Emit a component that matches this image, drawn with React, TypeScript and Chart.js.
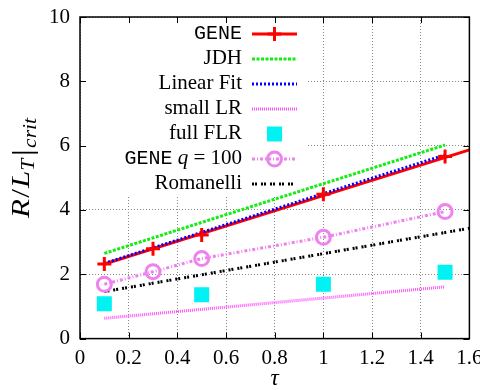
import { useEffect, useRef } from 'react';
import { Chart, registerables } from 'chart.js';

Chart.register(...registerables);

// ---- data ----
const seriesNames = ['GENE', 'JDH', 'Linear Fit', 'small LR', 'full FLR', 'GENE q = 100', 'Romanelli'];
const tauGene = [0.1, 0.3, 0.5, 1.0, 1.5];
const geneValues = [2.32, 2.79, 3.22, 4.49, 5.66];
const geneLineTau = [0.1, 1.6];
const geneLineValues = [2.32, 5.87];
const jdhTau = [0.1, 1.5];
const jdhValues = [2.65, 6.02];
const linFitTau = [0.1, 1.5];
const linFitValues = [2.34, 5.71];
const smallLRTau = [0.1, 1.5];
const smallLRValues = [0.63, 1.61];
const fullFLRTau = [0.1, 0.5, 1.0, 1.5];
const fullFLRValues = [1.08, 1.36, 1.69, 2.06];
const geneQ100Tau = [0.1, 0.3, 0.5, 1.0, 1.5];
const geneQ100Values = [1.69, 2.08, 2.49, 3.15, 3.95];
const romanelliTau = [0.1, 1.6];
const romanelliValues = [1.46, 3.43];
const xTicks = [0, 0.2, 0.4, 0.6, 0.8, 1, 1.2, 1.4, 1.6];
const yTicks = [0, 2, 4, 6, 8, 10];

const pts = (xs: number[], ys: number[]) => xs.map((x, i) => ({ x, y: ys[i] }));

const RED = '#ff0000';
const GREEN = '#11ee11';
const BLUE = '#0000ff';
const MAGENTA = '#ff55ff';
const CYAN = '#00f2f2';
const VIOLET = '#ee82ee';
const BLACK = '#000000';

const SERIF = '"Liberation Serif", "DejaVu Serif", serif';
const MONO = '"Liberation Mono", "DejaVu Sans Mono", monospace';

const decor = {
  id: 'decor',
  beforeDatasetsDraw(chart: any) {
    const { ctx, chartArea } = chart;
    ctx.save();
    ctx.fillStyle = '#ffffff';
    ctx.fillRect(chartArea.left + 1, chartArea.top + 1, 306 - chartArea.left - 1, 196 - chartArea.top - 1);
    ctx.restore();
  },
  afterDraw(chart: any) {
    const { ctx, chartArea } = chart;
    const xs = chart.scales.x;
    const ys = chart.scales.y;
    const { left, right, top, bottom } = chartArea;
    ctx.save();
    // inward ticks
    ctx.strokeStyle = '#000';
    ctx.lineWidth = 1;
    ctx.beginPath();
    for (const v of xTicks) {
      const px = Math.round(xs.getPixelForValue(v)) + 0.5;
      ctx.moveTo(px, bottom); ctx.lineTo(px, bottom - 6);
      ctx.moveTo(px, top); ctx.lineTo(px, top + 6);
    }
    for (const v of yTicks) {
      const py = Math.round(ys.getPixelForValue(v)) + 0.5;
      ctx.moveTo(left, py); ctx.lineTo(left + 6, py);
      ctx.moveTo(right, py); ctx.lineTo(right - 6, py);
    }
    ctx.stroke();
    // frame
    ctx.lineWidth = 1.5;
    ctx.strokeRect(left, top, right - left, bottom - top);

    // legend
    const textRight = 242;
    const s0 = 252, s1 = 297, sm = (s0 + s1) / 2;
    const row = (i: number) => 34 + 25 * i;
    const drawText = (i: number, parts: { t: string; f: string }[]) => {
      let w = 0;
      for (const p of parts) { ctx.font = p.f; w += ctx.measureText(p.t).width; }
      let x = textRight - w;
      ctx.fillStyle = '#000';
      ctx.textBaseline = 'alphabetic';
      ctx.textAlign = 'left';
      for (const p of parts) { ctx.font = p.f; ctx.fillText(p.t, x, row(i) + 4.5); x += ctx.measureText(p.t).width; }
    };
    const serif = `21px ${SERIF}`;
    const mono = `20px ${MONO}`;
    const ital = `italic 21px ${SERIF}`;
    const line = (i: number, color: string, dash: number[]) => {
      ctx.save();
      ctx.strokeStyle = color; ctx.lineWidth = 3; ctx.setLineDash(dash); ctx.lineCap = 'butt';
      ctx.beginPath(); ctx.moveTo(s0, row(i)); ctx.lineTo(s1, row(i)); ctx.stroke();
      ctx.restore();
    };
    drawText(0, [{ t: seriesNames[0], f: mono }]);
    line(0, RED, []);
    ctx.save(); ctx.strokeStyle = RED; ctx.lineWidth = 3; ctx.beginPath();
    ctx.moveTo(sm - 7, row(0)); ctx.lineTo(sm + 7, row(0)); ctx.moveTo(sm, row(0) - 7); ctx.lineTo(sm, row(0) + 7); ctx.stroke(); ctx.restore();
    drawText(1, [{ t: seriesNames[1], f: serif }]);
    line(1, GREEN, [3, 1.5]);
    drawText(2, [{ t: seriesNames[2], f: serif }]);
    line(2, BLUE, [2, 2]);
    drawText(3, [{ t: seriesNames[3], f: serif }]);
    line(3, MAGENTA, [1, 1]);
    drawText(4, [{ t: seriesNames[4], f: serif }]);
    ctx.fillStyle = CYAN; ctx.fillRect(sm - 7.5, row(4) - 7.5, 15, 15);
    drawText(5, [{ t: 'GENE', f: mono }, { t: ' ', f: serif }, { t: 'q', f: ital }, { t: ' = 100', f: serif }]);
    line(5, VIOLET, [3, 2, 1, 2]);
    ctx.save(); ctx.strokeStyle = VIOLET; ctx.lineWidth = 3; ctx.beginPath(); ctx.arc(sm, row(5), 7, 0, Math.PI * 2); ctx.stroke(); ctx.restore();
    drawText(6, [{ t: seriesNames[6], f: serif }]);
    line(6, BLACK, [2, 1, 2, 4]);

    // axis titles
    ctx.fillStyle = '#000';
    ctx.font = `italic 23px ${SERIF}`;
    ctx.textAlign = 'center';
    ctx.textBaseline = 'alphabetic';
    ctx.fillText('τ', (left + right) / 2, 385);

    const ylab = [
      { t: 'R', f: `italic 26px ${SERIF}`, dy: 0, gap: 1 },
      { t: '/', f: `26px ${SERIF}`, dy: 0, gap: 1 },
      { t: 'L', f: `italic 26px ${SERIF}`, dy: 0, gap: 0 },
      { t: 'T', f: `italic 18px ${SERIF}`, dy: 5, gap: 2 },
      { t: '|', f: `30px ${SERIF}`, dy: 3, gap: 1 },
      { t: 'crit', f: `italic 18px ${SERIF}`, dy: 7, gap: 0 },
    ];
    let tw = 0;
    for (const p of ylab) { ctx.font = p.f; tw += ctx.measureText(p.t).width + p.gap; }
    ctx.translate(29, 168);
    ctx.rotate(-Math.PI / 2);
    const sc = Math.max(1, 100 / tw);
    ctx.scale(sc, 1);
    ctx.textAlign = 'left';
    let x = -tw / 2;
    for (const p of ylab) { ctx.font = p.f; ctx.fillText(p.t, x, p.dy); x += ctx.measureText(p.t).width + p.gap; }
    ctx.restore();
  },
};

export default function App() {
  const ref = useRef<HTMLCanvasElement>(null);
  useEffect(() => {
    if (!ref.current) return;
    const chart = new Chart(ref.current, {
      type: 'scatter',
      data: {
        datasets: [
          { label: 'GENE line', data: pts(geneLineTau, geneLineValues), showLine: true, borderColor: RED, borderWidth: 3, pointRadius: 0, order: 6 },
          { label: 'JDH', data: pts(jdhTau, jdhValues), showLine: true, borderColor: GREEN, borderWidth: 3, borderDash: [3, 1.5], pointRadius: 0, order: 5 },
          { label: 'Linear Fit', data: pts(linFitTau, linFitValues), showLine: true, borderColor: BLUE, borderWidth: 3, borderDash: [2, 2], pointRadius: 0, order: 4 },
          { label: 'small LR', data: pts(smallLRTau, smallLRValues), showLine: true, borderColor: MAGENTA, borderWidth: 3, borderDash: [1, 1], pointRadius: 0, order: 5 },
          { label: 'full FLR', data: pts(fullFLRTau, fullFLRValues), showLine: false, pointStyle: 'rect', pointRadius: 10.6, backgroundColor: CYAN, borderWidth: 0, order: 3 },
          { label: 'GENE q = 100', data: pts(geneQ100Tau, geneQ100Values), showLine: true, borderColor: VIOLET, borderWidth: 3, borderDash: [3, 2, 1, 2], pointStyle: 'circle', pointRadius: 7, pointBorderWidth: 3, pointBorderColor: VIOLET, pointBackgroundColor: 'rgba(0,0,0,0)', order: 3 },
          { label: 'Romanelli', data: pts(romanelliTau, romanelliValues), showLine: true, borderColor: BLACK, borderWidth: 3, borderDash: [2, 1, 2, 4], pointRadius: 0, order: 5 },
          { label: 'GENE', data: pts(tauGene, geneValues), showLine: false, pointStyle: 'cross', pointRadius: 7, pointBorderWidth: 3, borderColor: RED, order: 1 },
        ],
      },
      options: {
        responsive: false,
        animation: false,
        events: [],
        layout: { padding: { top: 17, right: 8, left: 0, bottom: 0 } },
        plugins: { legend: { display: false }, tooltip: { enabled: false } },
        scales: {
          x: {
            type: 'linear', min: 0, max: 1.6,
            afterBuildTicks: (s: any) => { s.ticks = xTicks.map((v) => ({ value: v })); },
            afterFit: (s: any) => { s.height = 51.4; s.paddingLeft = 0; s.paddingRight = 0; },
            ticks: { color: '#000', font: { family: SERIF, size: 21 }, padding: 7, maxRotation: 0, autoSkip: false, callback: (v: any) => String(Number(v)) },
            grid: { color: '#888', lineWidth: 1, drawTicks: false },
            border: { display: false, dash: [1, 2] },
          },
          y: {
            type: 'linear', min: 0, max: 10,
            afterBuildTicks: (s: any) => { s.ticks = yTicks.map((v) => ({ value: v })); },
            afterFit: (s: any) => { s.width = 80; s.paddingTop = 0; s.paddingBottom = 0; },
            ticks: { color: '#000', font: { family: SERIF, size: 21 }, padding: 10, autoSkip: false, callback: (v: any) => String(Number(v)) },
            grid: { color: '#888', lineWidth: 1, drawTicks: false },
            border: { display: false, dash: [1, 2] },
          },
        },
      },
      plugins: [decor],
    } as any);
    return () => chart.destroy();
  }, []);
  return (
    <div style={{ position: 'fixed', left: 0, top: 0, width: 480, height: 390, background: '#fff' }}>
      <canvas ref={ref} width={480} height={390} style={{ width: 480, height: 390, display: 'block' }} />
    </div>
  );
}
